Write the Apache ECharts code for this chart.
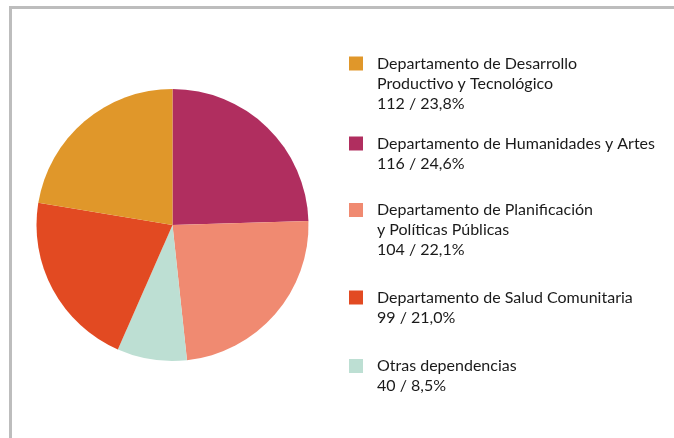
<!DOCTYPE html>
<html>
<head>
<meta charset="utf-8">
<script src="https://cdn.jsdelivr.net/npm/echarts@6/dist/echarts.min.js"></script>
<style>
  html, body { margin: 0; padding: 0; background: #fff; }
  #chart { width: 674px; height: 438px; }
</style>
</head>
<body>
<div id="chart"></div>
<script>
(function() {
  // pie order (clockwise from 12 o'clock)
  var names = [
    'Departamento de Humanidades y Artes',
    'Departamento de Planificación y Políticas Públicas',
    'Otras dependencias',
    'Departamento de Salud Comunitaria',
    'Departamento de Desarrollo Productivo y Tecnológico'
  ];
  // wedge sizes as drawn in the picture
  var sliceValues = [115.5, 112, 39, 99, 105.5];
  // figures printed in the legend
  var counts = [116, 104, 40, 99, 112];
  var shares = ['24,6%', '22,1%', '8,5%', '21,0%', '23,8%'];
  var colors = ['#b02e5f', '#f08a71', '#bddfd3', '#e24a22', '#e0972a'];

  // legend order and wrapped labels
  var legendOrder = [4, 0, 1, 3, 2];
  var legendLabels = [
    ['Departamento de Humanidades y Artes'],
    ['Departamento de Planificación', 'y Políticas Públicas'],
    ['Otras dependencias'],
    ['Departamento de Salud Comunitaria'],
    ['Departamento de Desarrollo', 'Productivo y Tecnológico']
  ];
  // vertical centre of each legend icon, in legend order
  var legendCentres = [63.5, 143.5, 210, 297.5, 366];

  var font = 'Lato';
  var lineH = 20;

  var legends = legendOrder.map(function(idx, k) {
    var lines = legendLabels[idx].concat([counts[idx] + ' / ' + shares[idx]]);
    var n = lines.length;
    // blank lines in front so the first text line sits level with the icon
    var pad = [];
    for (var i = 0; i < n - 1; i++) pad.push('{b| }');
    var text = pad.concat(lines.map(function(l) { return '{t|' + l + '}'; })).join('\n');
    return {
      show: true,
      orient: 'vertical',
      left: 349,
      top: legendCentres[k] - (2 * n - 1) * lineH / 2 + 7 - 7,
      padding: 0,
      itemWidth: 14,
      itemHeight: 14,
      itemGap: 0,
      icon: 'rect',
      selectedMode: false,
      data: [names[idx]],
      formatter: function() { return text; },
      textStyle: {
        fontFamily: font,
        fontSize: 16,
        lineHeight: lineH,
        color: '#1a1a1a',
        rich: {
          t: { fontFamily: font, fontSize: 16, lineHeight: lineH, color: '#1a1a1a', padding: [0, 0, 0, 9] },
          b: { fontFamily: font, fontSize: 16, lineHeight: lineH }
        }
      }
    };
  });

  var chart = echarts.init(document.getElementById('chart'), null, { renderer: 'canvas' });
  chart.setOption({
    animation: false,
    legend: legends,
    graphic: [
      { type: 'rect', shape: { x: 9, y: 6, width: 665, height: 3 }, style: { fill: '#bdbdbd' }, silent: true },
      { type: 'rect', shape: { x: 9, y: 6, width: 3, height: 432 }, style: { fill: '#bdbdbd' }, silent: true }
    ],
    series: [{
      type: 'pie',
      center: [172.5, 225],
      radius: 136,
      startAngle: 90,
      clockwise: true,
      label: { show: false },
      labelLine: { show: false },
      emphasis: { disabled: true },
      itemStyle: { borderWidth: 0 },
      data: names.map(function(nm, i) {
        return { name: nm, value: sliceValues[i], itemStyle: { color: colors[i] } };
      })
    }]
  });
  window.addEventListener('resize', function() { chart.resize(); });
})();
</script>
</body>
</html>
